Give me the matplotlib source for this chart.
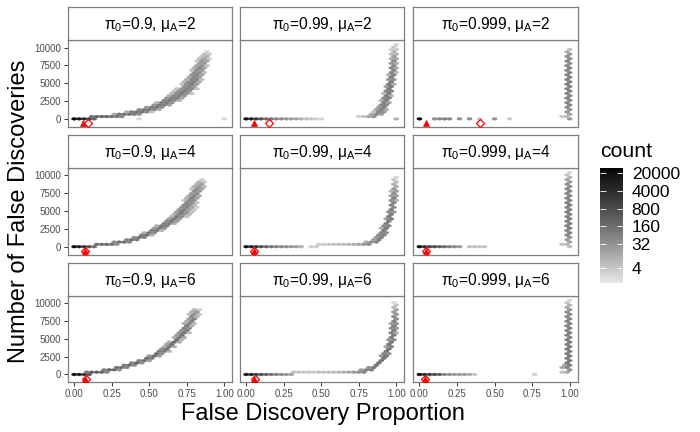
import numpy as np
import matplotlib
matplotlib.use("Agg")
import matplotlib.pyplot as plt
from matplotlib.colors import LogNorm, ListedColormap
from matplotlib.cm import ScalarMappable

plt.rcParams['font.family'] = ['Liberation Sans', 'DejaVu Sans']
plt.rcParams['mathtext.fontset'] = 'custom'
plt.rcParams['mathtext.rm'] = 'Liberation Sans'
plt.rcParams['mathtext.it'] = 'Liberation Sans:italic'
plt.rcParams['mathtext.bf'] = 'Liberation Sans:bold'

# ---------------- data ----------------
pi0_levels = ["0.9", "0.99", "0.999"]
muA_levels = ["2", "4", "6"]
x_ticks = [0.0, 0.25, 0.5, 0.75, 1.0]
x_ticklabels = ["0.00", "0.25", "0.50", "0.75", "1.00"]
y_ticks = [0, 2500, 5000, 7500, 10000]
y_ticklabels = ["0", "2500", "5000", "7500", "10000"]
count_breaks = [4, 32, 160, 800, 4000, 20000]
count_max = 29600

# hex cells: (false discovery proportion, number of false discoveries, count)
cells_p090_m2 = [
    (0.000, 0, 29000), (0.033, 0, 14000), (0.067, 0, 5000), (0.100, 0, 1200), (0.133, 0, 300), (0.433, 0, 2), (1.000, 0, 2),
    (0.117, 325, 150), (0.150, 325, 300), (0.183, 325, 300), (0.217, 325, 250), (0.250, 325, 200), (0.283, 325, 150), (0.317, 325, 60),
    (0.267, 650, 10), (0.300, 650, 120), (0.333, 650, 150), (0.367, 650, 150), (0.400, 650, 100), (0.433, 650, 30),
    (0.350, 975, 10), (0.383, 975, 80), (0.417, 975, 120), (0.450, 975, 120), (0.483, 975, 60), (0.517, 975, 5),
    (0.433, 1300, 40), (0.467, 1300, 100), (0.500, 1300, 120), (0.533, 1300, 60), (0.567, 1300, 8),
    (0.483, 1625, 30), (0.517, 1625, 100), (0.550, 1625, 110), (0.583, 1625, 40),
    (0.533, 1950, 30), (0.567, 1950, 100), (0.600, 1950, 90), (0.633, 1950, 20),
    (0.550, 2275, 8), (0.583, 2275, 70), (0.617, 2275, 100), (0.650, 2275, 40),
    (0.600, 2600, 50), (0.633, 2600, 100), (0.667, 2600, 60), (0.700, 2600, 8),
    (0.617, 2925, 30), (0.650, 2925, 90), (0.683, 2925, 80), (0.717, 2925, 15),
    (0.633, 3250, 10), (0.667, 3250, 70), (0.700, 3250, 90), (0.733, 3250, 30),
    (0.650, 3575, 8), (0.683, 3575, 50), (0.717, 3575, 90), (0.750, 3575, 50), (0.783, 3575, 5),
    (0.667, 3900, 5), (0.700, 3900, 40), (0.733, 3900, 90), (0.767, 3900, 40),
    (0.683, 4225, 5), (0.717, 4225, 30), (0.750, 4225, 80), (0.783, 4225, 50), (0.817, 4225, 5),
    (0.733, 4550, 40), (0.767, 4550, 80), (0.800, 4550, 30),
    (0.717, 4875, 5), (0.750, 4875, 40), (0.783, 4875, 80), (0.817, 4875, 20),
    (0.733, 5200, 8), (0.767, 5200, 50), (0.800, 5200, 70), (0.833, 5200, 10),
    (0.750, 5525, 10), (0.783, 5525, 60), (0.817, 5525, 60), (0.850, 5525, 5),
    (0.767, 5850, 15), (0.800, 5850, 70), (0.833, 5850, 30),
    (0.783, 6175, 30), (0.817, 6175, 60), (0.850, 6175, 15),
    (0.800, 6500, 40), (0.833, 6500, 50), (0.867, 6500, 5),
    (0.783, 6825, 5), (0.817, 6825, 40), (0.850, 6825, 30),
    (0.800, 7150, 10), (0.833, 7150, 50), (0.867, 7150, 15),
    (0.817, 7475, 15), (0.850, 7475, 40), (0.883, 7475, 5),
    (0.833, 7800, 20), (0.867, 7800, 30),
    (0.817, 8125, 3), (0.850, 8125, 25), (0.883, 8125, 15),
    (0.833, 8450, 5), (0.867, 8450, 20), (0.900, 8450, 3),
    (0.850, 8775, 5), (0.883, 8775, 10),
    (0.867, 9100, 5), (0.900, 9100, 3),
    (0.883, 9425, 2),
]

cells_p099_m2 = [
    (0.000, 0, 20000), (0.033, 0, 8000), (0.067, 0, 2000), (0.100, 0, 600), (0.133, 0, 200), (0.167, 0, 100),
    (0.200, 0, 60), (0.233, 0, 40), (0.267, 0, 30), (0.300, 0, 20), (0.333, 0, 15), (0.367, 0, 8),
    (0.400, 0, 5), (0.433, 0, 4), (0.467, 0, 3), (0.500, 0, 2), (1.000, 0, 10),
    (0.750, 325, 3), (0.783, 325, 5), (0.817, 325, 15), (0.850, 325, 40),
    (0.833, 650, 10), (0.867, 650, 60), (0.900, 650, 20),
    (0.850, 975, 5), (0.883, 975, 60), (0.917, 975, 30),
    (0.867, 1300, 15), (0.900, 1300, 80), (0.933, 1300, 10),
    (0.883, 1625, 30), (0.917, 1625, 80),
    (0.900, 1950, 50), (0.933, 1950, 60),
    (0.917, 2275, 80), (0.950, 2275, 20),
    (0.900, 2600, 10), (0.933, 2600, 100),
    (0.917, 2925, 40), (0.950, 2925, 80),
    (0.933, 3250, 100), (0.967, 3250, 10),
    (0.917, 3575, 8), (0.950, 3575, 100),
    (0.933, 3900, 60), (0.967, 3900, 60),
    (0.950, 4225, 120),
    (0.933, 4550, 20), (0.967, 4550, 100),
    (0.950, 4875, 100), (0.983, 4875, 10),
    (0.967, 5200, 120),
    (0.950, 5525, 40), (0.983, 5525, 40),
    (0.967, 5850, 100),
    (0.950, 6175, 10), (0.983, 6175, 60),
    (0.967, 6500, 80), (1.000, 6500, 5),
    (0.983, 6825, 60),
    (0.967, 7150, 50), (1.000, 7150, 10),
    (0.983, 7475, 50),
    (0.967, 7800, 30), (1.000, 7800, 10),
    (0.983, 8125, 40),
    (0.967, 8450, 10), (1.000, 8450, 15),
    (0.983, 8775, 20),
    (0.967, 9100, 5), (1.000, 9100, 8),
    (0.983, 9425, 8),
    (0.967, 9750, 3), (1.000, 9750, 3),
    (0.983, 10075, 3),
    (1.000, 10400, 2),
]

cells_p0999_m2 = [
    (0.000, 0, 25000), (0.100, 0, 40), (0.133, 0, 60), (0.167, 0, 60), (0.200, 0, 50), (0.267, 0, 40),
    (0.333, 0, 40), (0.400, 0, 4), (0.500, 0, 30), (0.600, 0, 3), (1.000, 0, 30),
    (0.950, 325, 4), (0.983, 325, 8), (1.000, 650, 15), (0.983, 975, 25), (1.000, 1300, 35),
    (0.983, 1625, 50), (1.000, 1950, 55), (0.983, 2275, 60), (1.000, 2600, 60), (0.983, 2925, 65),
    (1.000, 3250, 65), (0.983, 3575, 70), (1.000, 3900, 70), (0.983, 4225, 70), (1.000, 4550, 70),
    (0.983, 4875, 70), (1.000, 5200, 70), (0.983, 5525, 70), (1.000, 5850, 65), (0.983, 6175, 65),
    (1.000, 6500, 65), (0.983, 6825, 60), (1.000, 7150, 60), (0.983, 7475, 55), (1.000, 7800, 50),
    (0.983, 8125, 50), (1.000, 8450, 45), (0.983, 8775, 40), (1.000, 9100, 25), (0.983, 9425, 12),
    (1.000, 9750, 5),
]

cells_p090_m4 = [
    (0.000, 0, 29000), (0.033, 0, 12000), (0.067, 0, 3000), (0.100, 0, 800), (0.133, 0, 200),
    (0.150, 325, 150), (0.183, 325, 200), (0.217, 325, 200), (0.250, 325, 150), (0.283, 325, 40),
    (0.267, 650, 40), (0.300, 650, 150), (0.333, 650, 150), (0.367, 650, 60),
    (0.350, 975, 60), (0.383, 975, 150), (0.417, 975, 100),
    (0.400, 1300, 40), (0.433, 1300, 150), (0.467, 1300, 80),
    (0.450, 1625, 100), (0.483, 1625, 120), (0.517, 1625, 10),
    (0.467, 1950, 10), (0.500, 1950, 130), (0.533, 1950, 60),
    (0.517, 2275, 80), (0.550, 2275, 120), (0.583, 2275, 10),
    (0.533, 2600, 20), (0.567, 2600, 130), (0.600, 2600, 40),
    (0.550, 2925, 10), (0.583, 2925, 100), (0.617, 2925, 80),
    (0.600, 3250, 80), (0.633, 3250, 100), (0.667, 3250, 10),
    (0.617, 3575, 50), (0.650, 3575, 100), (0.683, 3575, 20),
    (0.633, 3900, 20), (0.667, 3900, 110), (0.700, 3900, 30),
    (0.650, 4225, 10), (0.683, 4225, 100), (0.717, 4225, 40), (0.750, 4225, 5),
    (0.667, 4550, 10), (0.700, 4550, 90), (0.733, 4550, 40), (0.767, 4550, 8),
    (0.683, 4875, 20), (0.717, 4875, 90), (0.750, 4875, 30), (0.783, 4875, 5),
    (0.700, 5200, 30), (0.733, 5200, 80), (0.767, 5200, 20), (0.800, 5200, 4),
    (0.717, 5525, 40), (0.750, 5525, 70), (0.783, 5525, 15), (0.817, 5525, 3),
    (0.733, 5850, 50), (0.767, 5850, 60), (0.800, 5850, 8),
    (0.750, 6175, 60), (0.783, 6175, 50), (0.817, 6175, 5),
    (0.733, 6500, 5), (0.767, 6500, 60), (0.800, 6500, 40),
    (0.750, 6825, 10), (0.783, 6825, 70), (0.817, 6825, 20),
    (0.767, 7150, 15), (0.800, 7150, 60), (0.833, 7150, 10),
    (0.783, 7475, 30), (0.817, 7475, 50),
    (0.800, 7800, 40), (0.833, 7800, 30),
    (0.783, 8125, 5), (0.817, 8125, 40), (0.850, 8125, 15),
    (0.800, 8450, 10), (0.833, 8450, 30), (0.867, 8450, 5),
    (0.817, 8775, 10), (0.850, 8775, 20),
    (0.833, 9100, 8), (0.867, 9100, 4),
    (0.850, 9425, 3),
]

cells_p099_m4 = [
    (0.000, 0, 25000), (0.033, 0, 9000), (0.067, 0, 3000), (0.100, 0, 800), (0.133, 0, 300), (0.167, 0, 150),
    (0.200, 0, 80), (0.233, 0, 50), (0.267, 0, 40), (0.300, 0, 30), (0.333, 0, 20), (0.367, 0, 10),
    (0.433, 0, 3), (0.467, 0, 3),
    (0.483, 325, 3), (0.517, 325, 3), (0.550, 325, 4), (0.583, 325, 5), (0.617, 325, 5), (0.650, 325, 6),
    (0.683, 325, 8), (0.717, 325, 10), (0.750, 325, 15), (0.783, 325, 30), (0.817, 325, 50),
    (0.800, 650, 10), (0.833, 650, 40), (0.867, 650, 60),
    (0.850, 975, 20), (0.883, 975, 80),
    (0.867, 1300, 30), (0.900, 1300, 80),
    (0.883, 1625, 50), (0.917, 1625, 60),
    (0.900, 1950, 60), (0.933, 1950, 40),
    (0.917, 2275, 100),
    (0.900, 2600, 10), (0.933, 2600, 100),
    (0.917, 2925, 40), (0.950, 2925, 60),
    (0.933, 3250, 100),
    (0.950, 3575, 100),
    (0.933, 3900, 20), (0.967, 3900, 80),
    (0.950, 4225, 100),
    (0.967, 4550, 100),
    (0.950, 4875, 40), (0.983, 4875, 30),
    (0.967, 5200, 100),
    (0.983, 5525, 60),
    (0.967, 5850, 70),
    (0.983, 6175, 70),
    (0.967, 6500, 40), (1.000, 6500, 10),
    (0.983, 6825, 60),
    (0.967, 7150, 20), (1.000, 7150, 20),
    (0.983, 7475, 40),
    (0.967, 7800, 8), (1.000, 7800, 20),
    (0.983, 8125, 25),
    (1.000, 8450, 10),
    (0.983, 8775, 10),
    (1.000, 9100, 5),
    (0.983, 9425, 4),
    (1.000, 9750, 2),
]

cells_p0999_m4 = [
    (0.000, 0, 29000), (0.033, 0, 3000), (0.067, 0, 1500), (0.100, 0, 800), (0.133, 0, 400), (0.167, 0, 200),
    (0.200, 0, 100), (0.233, 0, 50), (0.267, 0, 30), (0.333, 0, 5), (0.367, 0, 5), (0.400, 0, 4), (0.433, 0, 4),
    (1.000, 0, 6),
    (0.950, 325, 5), (0.983, 325, 8), (1.000, 650, 15), (0.983, 975, 25), (1.000, 1300, 40),
    (0.983, 1625, 60), (1.000, 1950, 70), (0.983, 2275, 75), (1.000, 2600, 80), (0.983, 2925, 80),
    (1.000, 3250, 80), (0.983, 3575, 80), (1.000, 3900, 80), (0.983, 4225, 80), (1.000, 4550, 75),
    (0.983, 4875, 75), (1.000, 5200, 75), (0.983, 5525, 75), (1.000, 5850, 70), (0.983, 6175, 70),
    (1.000, 6500, 70), (0.983, 6825, 65), (1.000, 7150, 65), (0.983, 7475, 60), (1.000, 7800, 60),
    (0.983, 8125, 55), (1.000, 8450, 50), (0.983, 8775, 40), (1.000, 9100, 25), (0.983, 9425, 15),
    (1.000, 9750, 8), (0.983, 10075, 4), (1.000, 10400, 2),
]

cells_p090_m6 = [
    (0.000, 0, 29000), (0.033, 0, 15000), (0.067, 0, 4000), (0.100, 0, 600),
    (0.083, 325, 100), (0.117, 325, 300), (0.150, 325, 300), (0.183, 325, 250), (0.217, 325, 60),
    (0.200, 650, 80), (0.233, 650, 250), (0.267, 650, 200), (0.300, 650, 30),
    (0.283, 975, 150), (0.317, 975, 200), (0.350, 975, 60),
    (0.333, 1300, 100), (0.367, 1300, 200), (0.400, 1300, 60),
    (0.383, 1625, 60), (0.417, 1625, 200), (0.450, 1625, 40),
    (0.433, 1950, 80), (0.467, 1950, 180), (0.500, 1950, 20),
    (0.483, 2275, 150), (0.517, 2275, 100),
    (0.500, 2600, 30), (0.533, 2600, 180), (0.567, 2600, 20),
    (0.550, 2925, 150), (0.583, 2925, 40),
    (0.567, 3250, 100), (0.600, 3250, 100), (0.633, 3250, 8),
    (0.583, 3575, 40), (0.617, 3575, 150),
    (0.600, 3900, 10), (0.633, 3900, 150), (0.667, 3900, 10),
    (0.617, 4225, 20), (0.650, 4225, 150),
    (0.633, 4550, 10), (0.667, 4550, 150), (0.700, 4550, 10),
    (0.683, 4875, 150), (0.717, 4875, 8),
    (0.667, 5200, 10), (0.700, 5200, 140), (0.733, 5200, 10),
    (0.683, 5525, 20), (0.717, 5525, 130),
    (0.700, 5850, 30), (0.733, 5850, 110), (0.767, 5850, 5),
    (0.717, 6175, 40), (0.750, 6175, 90),
    (0.733, 6500, 80), (0.767, 6500, 40),
    (0.750, 6825, 100), (0.783, 6825, 10),
    (0.733, 7150, 10), (0.767, 7150, 90), (0.800, 7150, 5),
    (0.750, 7475, 10), (0.783, 7475, 80),
    (0.767, 7800, 20), (0.800, 7800, 60),
    (0.783, 8125, 50), (0.817, 8125, 10),
    (0.767, 8450, 5), (0.800, 8450, 40), (0.833, 8450, 4),
    (0.783, 8775, 10), (0.817, 8775, 25),
    (0.800, 9100, 8), (0.833, 9100, 3),
]

cells_p099_m6 = [
    (0.000, 0, 25000), (0.033, 0, 10000), (0.067, 0, 3000), (0.100, 0, 1000), (0.133, 0, 400), (0.167, 0, 150),
    (0.200, 0, 80), (0.233, 0, 50), (0.267, 0, 30), (0.300, 0, 20),
    (0.317, 325, 5), (0.350, 325, 5), (0.383, 325, 4), (0.417, 325, 4), (0.450, 325, 4), (0.483, 325, 5),
    (0.517, 325, 5), (0.550, 325, 6), (0.583, 325, 6), (0.617, 325, 8), (0.650, 325, 10), (0.683, 325, 15),
    (0.717, 325, 25), (0.750, 325, 40), (0.783, 325, 60),
    (0.767, 650, 20), (0.800, 650, 60), (0.833, 650, 80),
    (0.817, 975, 40), (0.850, 975, 100),
    (0.867, 1300, 120),
    (0.883, 1625, 120),
    (0.900, 1950, 130),
    (0.917, 2275, 120),
    (0.900, 2600, 20), (0.933, 2600, 120),
    (0.917, 2925, 60), (0.950, 2925, 40),
    (0.933, 3250, 130),
    (0.950, 3575, 120),
    (0.933, 3900, 20), (0.967, 3900, 80),
    (0.950, 4225, 120),
    (0.967, 4550, 120),
    (0.950, 4875, 30), (0.983, 4875, 50),
    (0.967, 5200, 120),
    (0.983, 5525, 100),
    (0.967, 5850, 80), (1.000, 5850, 10),
    (0.983, 6175, 100),
    (0.967, 6500, 40), (1.000, 6500, 30),
    (0.983, 6825, 90),
    (0.967, 7150, 20), (1.000, 7150, 40),
    (0.983, 7475, 70),
    (1.000, 7800, 40),
    (0.983, 8125, 50),
    (1.000, 8450, 30),
    (0.983, 8775, 25),
    (1.000, 9100, 15),
    (0.983, 9425, 8),
    (1.000, 9750, 4),
    (0.983, 10075, 2),
]

cells_p0999_m6 = [
    (0.000, 0, 29000), (0.033, 0, 4000), (0.067, 0, 2000), (0.100, 0, 1000), (0.133, 0, 500), (0.167, 0, 60),
    (0.200, 0, 40), (0.233, 0, 30), (0.267, 0, 25), (0.300, 0, 20), (0.333, 0, 15), (0.367, 0, 4), (0.767, 0, 3),
    (0.950, 325, 5), (0.983, 325, 15), (1.000, 650, 40), (0.950, 975, 15), (0.983, 975, 60),
    (0.967, 1300, 15), (1.000, 1300, 90), (0.983, 1625, 100), (1.000, 1950, 100), (0.983, 2275, 100),
    (1.000, 2600, 95), (0.983, 2925, 95), (1.000, 3250, 90), (0.983, 3575, 90), (1.000, 3900, 85),
    (0.983, 4225, 85), (1.000, 4550, 85), (0.983, 4875, 80), (1.000, 5200, 80), (0.983, 5525, 80),
    (1.000, 5850, 75), (0.983, 6175, 75), (1.000, 6500, 75), (0.983, 6825, 70), (1.000, 7150, 70),
    (0.983, 7475, 65), (1.000, 7800, 60), (0.983, 8125, 55), (1.000, 8450, 50), (0.983, 8775, 40),
    (1.000, 9100, 30), (0.983, 9425, 15), (1.000, 9750, 8), (0.983, 10075, 4), (1.000, 10400, 2),
]

panel_cells = [
    [cells_p090_m2, cells_p099_m2, cells_p0999_m2],
    [cells_p090_m4, cells_p099_m4, cells_p0999_m4],
    [cells_p090_m6, cells_p099_m6, cells_p0999_m6],
]

# red summary markers (rows: muA, cols: pi0)
triangle_x = [[0.062, 0.050, 0.043],
              [0.073, 0.051, 0.043],
              [0.075, 0.055, 0.038]]
diamond_x = [[0.092, 0.155, 0.400],
             [0.075, 0.053, 0.045],
             [0.077, 0.057, 0.040]]
marker_y = -600

# ---------------- styling / layout ----------------
W, H = 700, 432
fig = plt.figure(figsize=(W / 100, H / 100), dpi=100)

def box(l, t, w, h):
    return [l / W, 1 - (t + h) / H, w / W, h / H]

col_left = [68, 240, 413.3]
panel_w = 164.3
row_top = [40, 167.8, 295.6]
panel_h = 86.7
strip_h = 33
border_col = '#7f7f7f'

def lab_gray(L):
    fy = (L + 16) / 116
    Y = fy ** 3 if fy ** 3 > 0.008856 else L / 903.3
    v = 12.92 * Y if Y <= 0.0031308 else 1.055 * Y ** (1 / 2.4) - 0.055
    return min(max(v, 0), 1)

L_low = 92.0
gvals = [lab_gray(L) for L in np.linspace(L_low, 0, 256)]
cmap = ListedColormap([(g, g, g) for g in gvals])
norm = LogNorm(vmin=1, vmax=count_max)

for r in range(3):
    for c in range(3):
        ax = fig.add_axes(box(col_left[c], row_top[r], panel_w, panel_h))
        data = panel_cells[r][c]
        xs = np.array([d[0] for d in data])
        ys = np.array([d[1] for d in data], dtype=float)
        cs = np.array([d[2] for d in data], dtype=float)
        ax.hexbin(xs, ys, C=cs, reduce_C_function=np.sum, gridsize=(30, 16),
                  extent=(0, 1, 0, 10400), cmap=cmap, norm=norm,
                  edgecolors='face', linewidths=0.2)
        ax.plot([triangle_x[r][c]], [marker_y], marker='^', color='#ff0000',
                ms=4.3, mec='#ff0000', mew=0.5, ls='none', zorder=5)
        ax.plot([diamond_x[r][c]], [marker_y], marker='D', mfc='none', mec='#ff0000',
                ms=3.6, mew=0.9, ls='none', zorder=6)
        ax.set_xlim(-0.041, 1.053)
        ax.set_ylim(-1100, 11080)
        ax.set_xticks(x_ticks)
        ax.set_yticks(y_ticks)
        ax.set_facecolor('white')
        for s in ax.spines.values():
            s.set_color(border_col)
            s.set_linewidth(0.9)
        left = (c == 0)
        bottom = (r == 2)
        ax.tick_params(axis='y', left=left, labelleft=left, length=2.9, width=0.7,
                       color='#333333', labelcolor='#4d4d4d', labelsize=7, pad=2.2)
        ax.tick_params(axis='x', bottom=bottom, labelbottom=bottom, length=2.9, width=0.7,
                       color='#333333', labelcolor='#4d4d4d', labelsize=7, pad=2.2)
        if left:
            ax.set_yticklabels(y_ticklabels)
        if bottom:
            ax.set_xticklabels(x_ticklabels)

        # strip
        sax = fig.add_axes(box(col_left[c], row_top[r] - strip_h, panel_w, strip_h))
        sax.set_xticks([]); sax.set_yticks([])
        sax.set_xlim(0, 1); sax.set_ylim(0, 1)
        for s in sax.spines.values():
            s.set_color(border_col)
            s.set_linewidth(0.9)
        label = "\u03c0$_\\mathrm{0}$=" + pi0_levels[c] + ", \u03bc$_\\mathrm{A}$=" + muA_levels[r]
        sax.text(0.5, 0.47, label, ha='center', va='center', fontsize=11.2, color='black')

# axis titles
fig.text((68 + 577.6) / 2 / W, 1 - 420 / H, "False Discovery Proportion",
         ha='center', va='baseline', fontsize=17, color='black')
fig.text(25 / W, 1 - 211.5 / H, "Number of False Discoveries", rotation=90,
         rotation_mode='anchor', ha='center', va='baseline', fontsize=17, color='black')

# colour bar legend
cax = fig.add_axes(box(600, 168.3, 23.3, 114.7))
cb = fig.colorbar(ScalarMappable(norm=norm, cmap=cmap), cax=cax)
cb.outline.set_visible(False)
cax.minorticks_off()
cb.set_ticks(count_breaks)
cb.set_ticklabels([str(v) for v in count_breaks])
cax.tick_params(which='major', direction='in', length=4.5, width=0.6, color='white',
                left=True, right=True, labelleft=False, labelright=True,
                labelsize=12.5, labelcolor='black', pad=6)
cax.tick_params(which='minor', left=False, right=False)
fig.text(600 / W, 1 - 157.5 / H, "count", ha='left', va='baseline', fontsize=15.3, color='black')

fig.savefig("out.png", dpi=100)
